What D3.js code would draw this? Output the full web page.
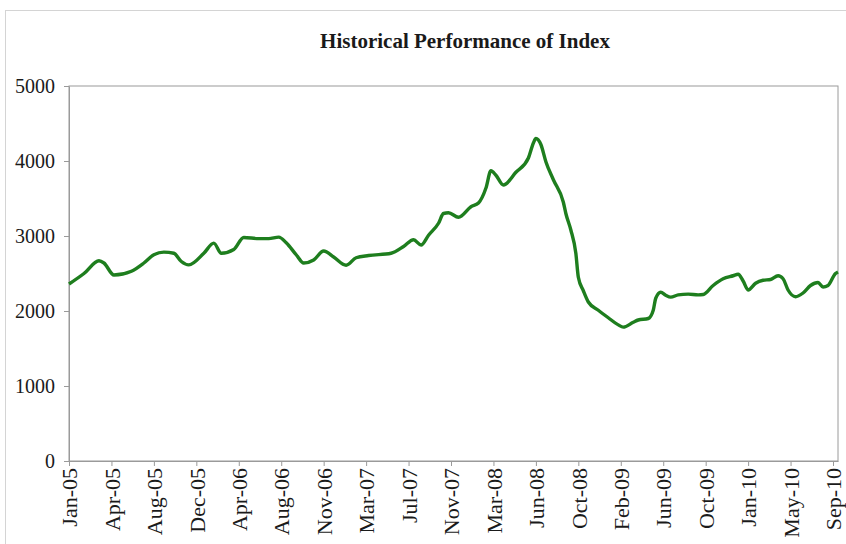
<!DOCTYPE html>
<html>
<head>
    <meta charset='utf-8'>
    <title>Historical Performance of Index</title>
    <script src='https://d3js.org/d3.v7.min.js'></script>
    <style>
        body { margin: 0; background: #fff; }
        text { font-family: 'Liberation Serif', 'Times New Roman', serif; fill: #1a1a1a; }
    </style>
</head>

<body>
<div id='chart'></div>
<script type='text/javascript'>
    // weekly series, week number counted from Jan-05
    const weeks = [0, 6, 12, 14, 18, 25, 30, 34, 38, 42, 45, 48, 54, 58, 61, 66, 70, 76, 80, 84,
                   87, 91, 94, 98, 102, 106, 111, 115, 120, 129, 134, 138, 141, 144, 148, 150, 152, 156, 161, 164,
                   167, 169, 171, 174, 179, 184, 186, 187, 189, 191, 194, 198, 199, 201, 203, 204, 206, 208, 212, 216,
                   220, 222, 226, 228, 232, 234, 235, 237, 239, 241, 244, 248, 252, 254, 258, 262, 266, 268, 270, 272,
                   275, 278, 281, 284, 286, 288, 291, 294, 297, 300, 302, 304, 307, 308];
    const values = [2360, 2500, 2670, 2640, 2480, 2530, 2640, 2750, 2785, 2770, 2660, 2615, 2770, 2905, 2770, 2820, 2980, 2965, 2965, 2985,
                    2910, 2750, 2640, 2680, 2800, 2720, 2610, 2710, 2740, 2770, 2860, 2950, 2880, 3010, 3170, 3300, 3310, 3250, 3390, 3440,
                    3640, 3870, 3810, 3680, 3850, 4040, 4240, 4300, 4220, 3990, 3750, 3450, 3300, 3080, 2770, 2450, 2270, 2120, 2010, 1910,
                    1815, 1785, 1850, 1880, 1900, 2010, 2170, 2250, 2210, 2185, 2215, 2225, 2215, 2220, 2340, 2430, 2470, 2490, 2400, 2280,
                    2370, 2410, 2420, 2470, 2430, 2280, 2190, 2240, 2340, 2380, 2320, 2340, 2500, 2520];

    const tickWeeks = [0, 17, 34, 51, 68, 85, 102, 119, 136, 153, 170, 187, 204, 221, 238, 255, 272, 289, 306];
    const tickLabels = ['Jan-05', 'Apr-05', 'Aug-05', 'Dec-05', 'Apr-06', 'Aug-06', 'Nov-06', 'Mar-07', 'Jul-07', 'Nov-07',
                        'Mar-08', 'Jun-08', 'Oct-08', 'Feb-09', 'Jun-09', 'Oct-09', 'Jan-10', 'May-10', 'Sep-10'];
    const yTicks = [0, 1000, 2000, 3000, 4000, 5000];

    let margin = {top: 86, right: 8, bottom: 83, left: 69};
    let w = 846 - margin.left - margin.right;
    let h = 544 - margin.top - margin.bottom;

    let root = d3.select('#chart')
            .append('svg')
                .attr('width', 846)
                .attr('height', 544);

    // outer chart frame
    root.append('rect')
        .attr('x', 5.5).attr('y', 10.5)
        .attr('width', 860).attr('height', 560)
        .attr('fill', 'none')
        .attr('stroke', '#d4d4d4');

    root.append('text')
        .attr('x', 465)
        .attr('y', 48)
        .attr('text-anchor', 'middle')
        .attr('font-size', '21px')
        .attr('font-weight', 'bold')
        .text('Historical Performance of Index');

    let svg = root.append('g')
            .attr('transform', `translate(${margin.left},${margin.top})`);

    let xScale = d3.scaleLinear().domain([0, 308]).range([0, w]);
    let yScale = d3.scaleLinear().domain([0, 5000]).range([h, 0]);

    // plot area border
    svg.append('rect')
       .attr('x', 0).attr('y', 0)
       .attr('width', w).attr('height', h)
       .attr('fill', 'none')
       .attr('stroke', '#9a9a9a');

    let xAxis = d3.axisBottom(xScale)
                  .tickValues(tickWeeks)
                  .tickFormat((d, i) => tickLabels[i])
                  .tickSize(5)
                  .tickSizeOuter(0);

    let yAxis = d3.axisLeft(yScale)
                  .tickValues(yTicks)
                  .tickFormat(d3.format('d'))
                  .tickSize(5)
                  .tickSizeOuter(0);

    let gx = svg.append('g')
       .attr('class', 'x axis')
       .attr('transform', `translate(0,${h})`)
       .call(xAxis);

    gx.selectAll('text')
      .attr('font-size', '22px')
      .attr('text-anchor', 'end')
      .attr('transform', 'rotate(-90)')
      .attr('x', -7)
      .attr('y', 0)
      .attr('dy', '0.35em');

    let gy = svg.append('g')
       .attr('class', 'y axis')
       .call(yAxis);

    gy.selectAll('text')
      .attr('font-size', '20px')
      .attr('x', -14);

    svg.selectAll('.axis path, .axis line')
       .attr('stroke', '#9a9a9a');
    svg.selectAll('.axis text')
       .attr('font-family', "'Liberation Serif', 'Times New Roman', serif")
       .attr('fill', '#1a1a1a');

    let line = d3.line()
                 .x((d, i) => xScale(weeks[i]))
                 .y((d) => yScale(d))
                 .curve(d3.curveMonotoneX);

    svg.append('path')
       .datum(values)
       .attr('fill', 'none')
       .attr('stroke', '#1e7e1e')
       .attr('stroke-width', 3.4)
       .attr('stroke-linejoin', 'round')
       .attr('d', line);
</script>
</body>
</html>
